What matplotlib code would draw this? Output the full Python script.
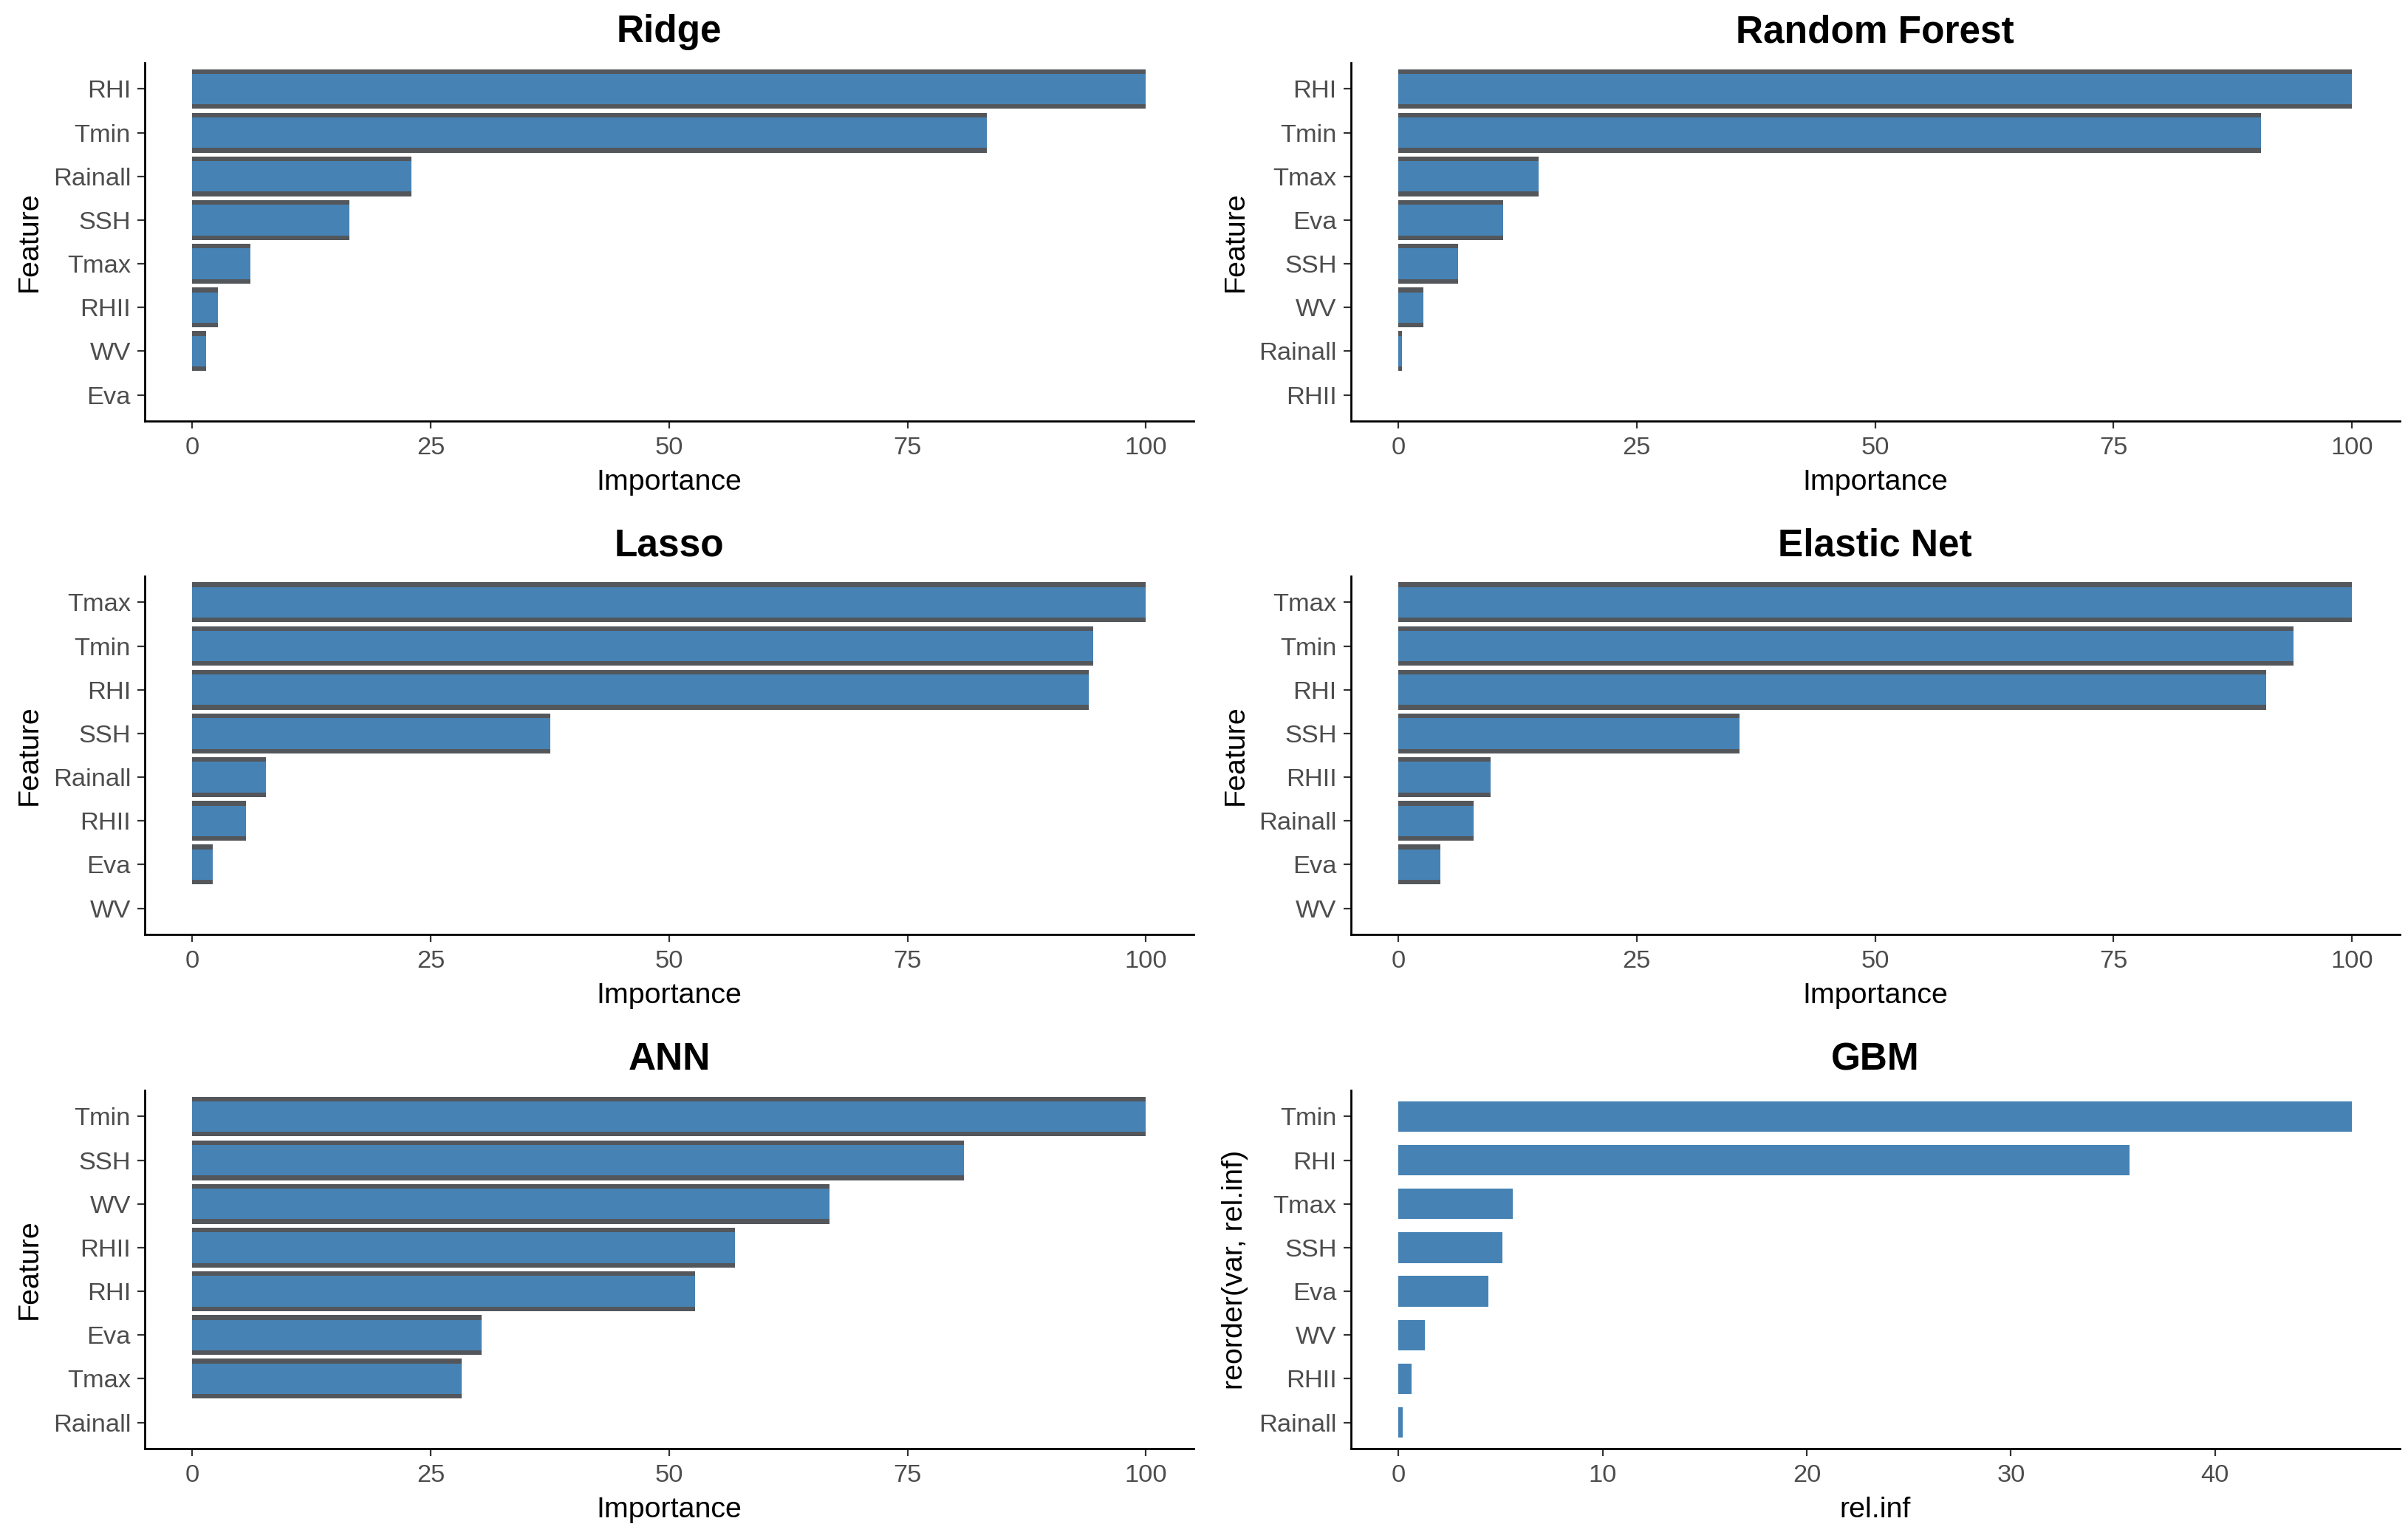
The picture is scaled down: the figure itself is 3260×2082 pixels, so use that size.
import matplotlib
matplotlib.use("Agg")
import matplotlib.pyplot as plt

plt.rcParams['font.family'] = ['Liberation Sans', 'DejaVu Sans']

# ---- data (top-to-bottom order as shown) ----
ridge_features = ["RHI", "Tmin", "Rainall", "SSH", "Tmax", "RHII", "WV", "Eva"]
ridge_values = [100, 83.3, 23.0, 16.5, 6.1, 2.7, 1.4, 0.0]

rf_features = ["RHI", "Tmin", "Tmax", "Eva", "SSH", "WV", "Rainall", "RHII"]
rf_values = [100, 90.5, 14.7, 11.0, 6.3, 2.6, 0.4, 0.0]

lasso_features = ["Tmax", "Tmin", "RHI", "SSH", "Rainall", "RHII", "Eva", "WV"]
lasso_values = [100, 94.5, 94.0, 37.5, 7.7, 5.6, 2.1, 0.0]

enet_features = ["Tmax", "Tmin", "RHI", "SSH", "RHII", "Rainall", "Eva", "WV"]
enet_values = [100, 93.9, 91.0, 35.8, 9.7, 7.9, 4.4, 0.0]

ann_features = ["Tmin", "SSH", "WV", "RHII", "RHI", "Eva", "Tmax", "Rainall"]
ann_values = [100, 80.9, 66.8, 56.9, 52.7, 30.3, 28.2, 0.0]

gbm_features = ["Tmin", "RHI", "Tmax", "SSH", "Eva", "WV", "RHII", "Rainall"]
gbm_values = [46.7, 35.8, 5.6, 5.1, 4.4, 1.3, 0.65, 0.2]

importance_ticks = [0, 25, 50, 75, 100]
gbm_ticks = [0, 10, 20, 30, 40]

panels = [
    ("Ridge", ridge_features, ridge_values, importance_ticks, "Importance", "Feature", True),
    ("Random Forest", rf_features, rf_values, importance_ticks, "Importance", "Feature", True),
    ("Lasso", lasso_features, lasso_values, importance_ticks, "Importance", "Feature", True),
    ("Elastic Net", enet_features, enet_values, importance_ticks, "Importance", "Feature", True),
    ("ANN", ann_features, ann_values, importance_ticks, "Importance", "Feature", True),
    ("GBM", gbm_features, gbm_values, gbm_ticks, "rel.inf", "reorder(var, rel.inf)", False),
]

STEEL = "#4682B4"
DARK = "#53575B"

fig = plt.figure(figsize=(16.3, 10.41), dpi=200)
lefts = [0.0601, 0.5609]
bottoms = [0.7262, 0.3924, 0.0581]
W, H = 0.4356, 0.2330

for i, (title, feats, vals, ticks, xlab, ylab, outlined) in enumerate(panels):
    row, col = divmod(i, 2)
    ax = fig.add_axes([lefts[col], bottoms[row], W, H])
    f_rev = feats[::-1]
    v_rev = vals[::-1]
    ypos = list(range(len(f_rev)))
    if outlined:
        ax.barh(ypos, v_rev, height=0.91, color=DARK, linewidth=0)
    ax.barh(ypos, v_rev, height=0.7, color=STEEL, linewidth=0)
    ax.set_yticks(ypos)
    ax.set_yticklabels(f_rev)
    ax.set_ylim(-0.6, len(f_rev) - 0.4)
    vmax = max(vals)
    ax.set_xlim(-0.05 * vmax, 1.05 * vmax)
    ax.set_xticks(ticks)
    ax.set_xticklabels([str(t) for t in ticks])

    for s in ["top", "right"]:
        ax.spines[s].set_visible(False)
    for s in ["left", "bottom"]:
        ax.spines[s].set_linewidth(1.0)
        ax.spines[s].set_color("black")
    ax.tick_params(axis="x", pad=3.8)
    ax.tick_params(axis="y", pad=3.2)
    ax.tick_params(axis="both", direction="out", length=3.6, width=0.8,
                   color="#333333", labelsize=12.4, labelcolor="#4D4D4D")
    ax.set_title(title, fontsize=18.5, fontweight="bold", pad=10, color="black")
    ax.set_xlabel(xlab, fontsize=14.2, labelpad=5, color="black")
    ax.set_ylabel(ylab, fontsize=14.2, labelpad=5, color="black")

fig.savefig("out.png", dpi=200, facecolor="white")
